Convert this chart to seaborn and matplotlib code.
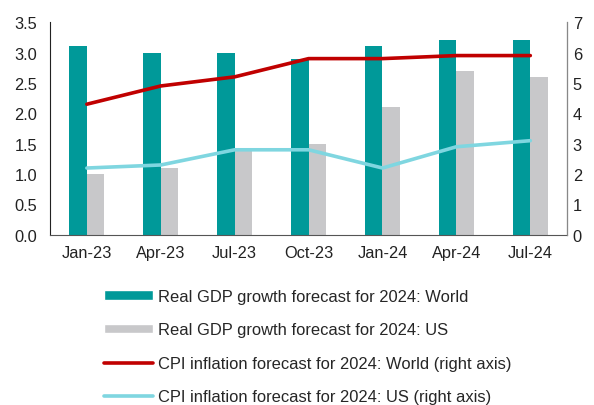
import pandas as pd
import matplotlib
matplotlib.use('Agg')
import matplotlib.pyplot as plt
import seaborn as sns
from matplotlib.patches import Patch
from matplotlib.lines import Line2D

# ---- data ----
dates = ['Jan-23', 'Apr-23', 'Jul-23', 'Oct-23', 'Jan-24', 'Apr-24', 'Jul-24']
gdp_world = [3.1, 3.0, 3.0, 2.9, 3.1, 3.2, 3.2]
gdp_us = [1.0, 1.1, 1.4, 1.5, 2.1, 2.7, 2.6]
cpi_world = [4.3, 4.9, 5.2, 5.8, 5.8, 5.9, 5.9]
cpi_us = [2.2, 2.3, 2.8, 2.8, 2.2, 2.9, 3.1]

lab_gw = 'Real GDP growth forecast for 2024: World'
lab_gu = 'Real GDP growth forecast for 2024: US'
lab_cw = 'CPI inflation forecast for 2024: World (right axis)'
lab_cu = 'CPI inflation forecast for 2024: US (right axis)'

TEAL = '#009999'
GREY = '#c8c8ca'
RED = '#c00000'
LBLUE = '#7fd6e0'
FS = 11.8
LEG_FS = 11.9

sns.set_style('white')
plt.rcParams['font.family'] = ['Liberation Sans', 'DejaVu Sans']
plt.rcParams['font.size'] = FS

bars = pd.DataFrame({
    'date': dates * 2,
    'value': gdp_world + gdp_us,
    'series': [lab_gw] * len(dates) + [lab_gu] * len(dates),
})

fig = plt.figure(figsize=(5.94, 4.06), dpi=100)
ax = fig.add_axes([0.084, 0.419, 0.871, 0.524])

sns.barplot(data=bars, x='date', y='value', hue='series',
            palette=[TEAL, GREY], width=0.47, ax=ax, legend=False,
            saturation=1, linewidth=0, gap=0)
ax.set_ylim(0, 3.5)
ax.set_yticks([0, 0.5, 1.0, 1.5, 2.0, 2.5, 3.0, 3.5])
ax.set_yticklabels([f'{v:.1f}' for v in ax.get_yticks()])
ax.set_xlabel('')
ax.set_ylabel('')
ax.set_xlim(-0.5, len(dates) - 0.5)

ax2 = ax.twinx()
sns.lineplot(x=dates, y=cpi_world, color=RED, lw=2.6, ax=ax2, sort=False)
sns.lineplot(x=dates, y=cpi_us, color=LBLUE, lw=2.6, ax=ax2, sort=False)
ax2.set_ylim(0, 7)
ax2.set_yticks(range(0, 8))
ax2.set_xlim(-0.5, len(dates) - 0.5)

for a in (ax, ax2):
    a.spines['top'].set_visible(False)
    a.tick_params(length=0, labelsize=FS, colors='#222222')
ax.tick_params(axis='y', pad=9)
ax.tick_params(axis='x', pad=7)
ax2.tick_params(axis='y', pad=4)
ax.spines['left'].set_color('#222222')
ax.spines['bottom'].set_color('#555555')
ax2.spines['left'].set_visible(False)
ax2.spines['bottom'].set_visible(False)
ax2.spines['right'].set_color('#888888')

handles = [
    Patch(facecolor=TEAL, label=lab_gw),
    Patch(facecolor=GREY, label=lab_gu),
    Line2D([], [], color=RED, lw=2.6, label=lab_cw),
    Line2D([], [], color=LBLUE, lw=2.6, label=lab_cu),
]
fig.legend(handles=handles, loc='upper left', bbox_to_anchor=(0.175, 0.286),
           frameon=False, handlelength=2.94, handleheight=0.5,
           labelspacing=1.12, handletextpad=0.3, borderaxespad=0,
           borderpad=0, fontsize=LEG_FS)

fig.savefig('out.png', dpi=100)
